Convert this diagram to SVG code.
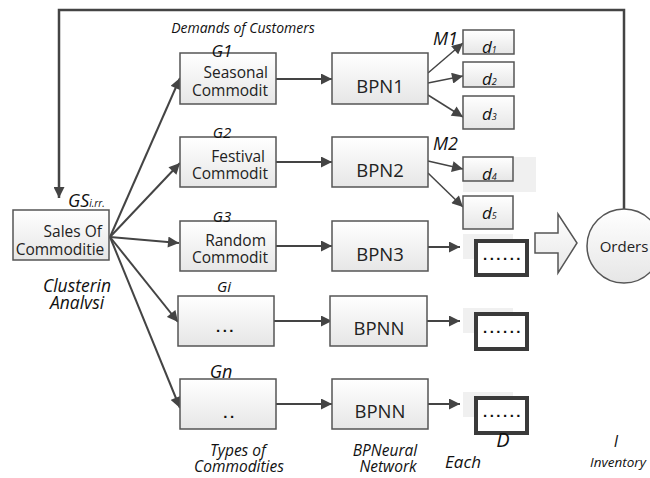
<svg xmlns="http://www.w3.org/2000/svg" width="650" height="478" viewBox="0 0 650 478">
<style>
.box{fill:url(#g);stroke:#555;stroke-width:1.5}
.obox{fill:url(#g);stroke:#555;stroke-width:1.5}
.dbox{fill:#fff;stroke:#3a3a3a;stroke-width:4}
.t{font-family:"Open Sans","Liberation Sans",sans-serif;fill:#222}
.i{font-family:"Open Sans","Liberation Sans",sans-serif;font-style:italic;fill:#111}
.ln{stroke:#444;stroke-width:2;fill:none}
.shade{fill:#f0f0f0}
.dots{font-family:"Liberation Sans",sans-serif;font-weight:bold;font-size:15px;letter-spacing:2.5px;fill:#111}
</style>
<defs>
<linearGradient id="g" x1="0" y1="0" x2="0" y2="1">
<stop offset="0" stop-color="#ffffff"/>
<stop offset="1" stop-color="#e6e6e6"/>
</linearGradient>
<marker id="b" viewBox="0 0 10 10" refX="10" refY="5" markerWidth="12" markerHeight="11" markerUnits="userSpaceOnUse" orient="auto">
<path d="M0,0L10,5L0,10z" fill="#444"/>
</marker>
</defs>

<g id="connectors">
<path class="ln" d="M624,210V10H59V198" marker-end="url(#b)" style="stroke-width:2.5"/>
<path class="ln" d="M110,237L180,78" marker-end="url(#b)"/>
<path class="ln" d="M110,237L180,163" marker-end="url(#b)"/>
<path class="ln" d="M110,237L179,243" marker-end="url(#b)"/>
<path class="ln" d="M110,237L178,322" marker-end="url(#b)"/>
<path class="ln" d="M110,237L180,408" marker-end="url(#b)"/>
<path class="ln" d="M276,79H332" marker-end="url(#b)"/>
<path class="ln" d="M276,162H332" marker-end="url(#b)"/>
<path class="ln" d="M276,246H332" marker-end="url(#b)"/>
<path class="ln" d="M274,321H332" marker-end="url(#b)"/>
<path class="ln" d="M276,404H332" marker-end="url(#b)"/>
<path class="ln" d="M428,73L463,43" marker-end="url(#b)" style="stroke-width:1.5"/>
<path class="ln" d="M428,83L463,76" marker-end="url(#b)" style="stroke-width:1.5"/>
<path class="ln" d="M428,95L463,117" marker-end="url(#b)" style="stroke-width:1.5"/>
<path class="ln" d="M428,161L463,169" marker-end="url(#b)" style="stroke-width:1.5"/>
<path class="ln" d="M428,173L463,207" marker-end="url(#b)" style="stroke-width:1.5"/>
<path class="ln" d="M428,247H460" marker-end="url(#b)"/>
<path class="ln" d="M427,321H460" marker-end="url(#b)"/>
<path class="ln" d="M428,404H460" marker-end="url(#b)"/>
</g>

<g id="sales">
<rect class="box" x="13" y="210" width="96" height="50"/>
<text class="t" x="102" y="237" font-size="15.5" text-anchor="end">Sales Of</text>
<text class="t" x="60" y="255" font-size="15.5" text-anchor="middle">Commoditie</text>
<text class="i" x="68" y="207" font-size="18">GS<tspan font-size="10">i.rr.</tspan></text>
<text class="i" x="77" y="292" font-size="17.5" text-anchor="middle">Clusterin</text>
<text class="i" x="77" y="309" font-size="17.5" text-anchor="middle">Analvsi</text>
</g>

<g id="demands">
<text class="i" x="243" y="33" font-size="14" text-anchor="middle">Demands of Customers</text>
</g>

<g id="G1">
<rect class="box" x="180" y="53" width="96" height="51"/>
<text class="i" x="222" y="57" font-size="17" text-anchor="middle">G1</text>
<text class="t" x="268" y="78" font-size="15.5" text-anchor="end">Seasonal</text>
<text class="t" x="268" y="96" font-size="15.5" text-anchor="end">Commodit</text>
</g>
<g id="G2">
<rect class="box" x="180" y="137" width="96" height="50"/>
<text class="i" x="222" y="138" font-size="15" text-anchor="middle">G2</text>
<text class="t" x="265" y="162" font-size="15.5" text-anchor="end">Festival</text>
<text class="t" x="268" y="179" font-size="15.5" text-anchor="end">Commodit</text>
</g>
<g id="G3">
<rect class="box" x="180" y="221" width="96" height="50"/>
<text class="i" x="222" y="222" font-size="15" text-anchor="middle">G3</text>
<text class="t" x="266" y="246" font-size="15.5" text-anchor="end">Random</text>
<text class="t" x="268" y="263" font-size="15.5" text-anchor="end">Commodit</text>
</g>
<g id="Gi">
<rect class="box" x="178" y="296" width="96" height="50"/>
<text class="i" x="224" y="292" font-size="15" text-anchor="middle">Gi</text>
<text class="dots" x="226" y="332" text-anchor="middle">...</text>
</g>
<g id="Gn">
<rect class="box" x="180" y="379" width="96" height="50"/>
<text class="i" x="221" y="378" font-size="18" text-anchor="middle">Gn</text>
<text class="dots" x="230" y="418" text-anchor="middle">..</text>
</g>

<g id="BPN1">
<rect class="box" x="332" y="53" width="96" height="51"/>
<text class="t" x="380" y="93" font-size="18.5" text-anchor="middle">BPN1</text>
</g>
<g id="BPN2">
<rect class="box" x="332" y="137" width="96" height="50"/>
<text class="t" x="380" y="177" font-size="18.5" text-anchor="middle">BPN2</text>
</g>
<g id="BPN3">
<rect class="box" x="332" y="221" width="96" height="50"/>
<text class="t" x="380" y="261" font-size="18.5" text-anchor="middle">BPN3</text>
</g>
<g id="BPNN1">
<rect class="box" x="330" y="296" width="97" height="50"/>
<text class="t" x="379" y="335" font-size="18.5" text-anchor="middle">BPNN</text>
</g>
<g id="BPNN2">
<rect class="box" x="332" y="379" width="96" height="50"/>
<text class="t" x="380" y="418" font-size="18.5" text-anchor="middle">BPNN</text>
</g>

<g id="M1"><text class="i" x="433" y="45" font-size="18">M1</text></g>
<g id="M2"><text class="i" x="433" y="150" font-size="18">M2</text></g>

<g id="d1">
<rect class="obox" x="463" y="30" width="51" height="24"/>
<text class="i" x="482" y="53" font-size="17">d<tspan font-size="9">1</tspan></text>
</g>
<g id="d2">
<rect class="obox" x="463" y="62" width="51" height="25"/>
<text class="i" x="482" y="85" font-size="17">d<tspan font-size="9">2</tspan></text>
</g>
<g id="d3">
<rect class="obox" x="463" y="96" width="51" height="33"/>
<text class="i" x="482" y="120" font-size="17">d<tspan font-size="9">3</tspan></text>
</g>
<g id="d4">
<rect class="shade" x="463" y="157" width="73" height="35"/>
<rect class="obox" x="463" y="157" width="50" height="24"/>
<text class="i" x="482" y="180" font-size="17">d<tspan font-size="9">4</tspan></text>
</g>
<g id="d5">
<rect class="obox" x="463" y="196" width="50" height="33"/>
<text class="i" x="482" y="219" font-size="17">d<tspan font-size="9">5</tspan></text>
</g>

<g id="D3">
<rect class="shade" x="463" y="234" width="50" height="25"/>
<rect class="dbox" x="476" y="241" width="51" height="34"/>
<text class="dots" x="503" y="260" text-anchor="middle">......</text>
</g>
<g id="Di">
<rect class="shade" x="463" y="308" width="50" height="25"/>
<rect class="dbox" x="476" y="314" width="51" height="35"/>
<text class="dots" x="503" y="333" text-anchor="middle">......</text>
</g>
<g id="Dn">
<rect class="shade" x="463" y="392" width="50" height="25"/>
<rect class="dbox" x="476" y="398" width="51" height="35"/>
<text class="dots" x="503" y="417" text-anchor="middle">......</text>
</g>

<g id="blockarrow">
<path d="M535,233H558V214L577,243L558,273V253H535Z" fill="url(#g)" stroke="#555" stroke-width="1.5"/>
</g>

<g id="orders">
<circle cx="624" cy="246" r="37" fill="url(#g)" stroke="#555" stroke-width="1.5"/>
<text class="t" x="624" y="252" font-size="15" text-anchor="middle">Orders</text>
</g>

<g id="labels">
<text class="i" x="238" y="456" font-size="15.5" text-anchor="middle">Types of</text>
<text class="i" x="239" y="472" font-size="15.5" text-anchor="middle">Commodities</text>
<text class="i" x="385" y="456" font-size="15.5" text-anchor="middle">BPNeural</text>
<text class="i" x="388" y="472" font-size="15.5" text-anchor="middle">Network</text>
<text class="i" x="463" y="468" font-size="17" text-anchor="middle">Each</text>
<text class="i" x="503" y="447" font-size="20" text-anchor="middle">D</text>
<text class="i" x="616" y="447" font-size="16" text-anchor="middle">I</text>
<text class="i" x="618" y="467" font-size="13.5" text-anchor="middle">Inventory</text>
</g>
</svg>
